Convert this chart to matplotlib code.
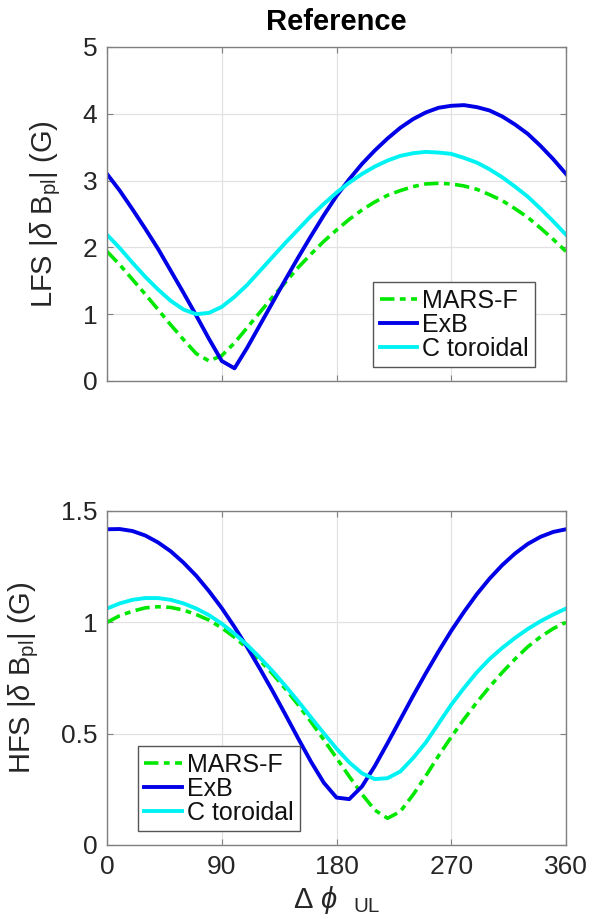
"""Two-panel |dB_pl| vs. upper/lower coil phasing (LFS / HFS), MATLAB look."""
import matplotlib
matplotlib.use("Agg")
import matplotlib.pyplot as plt

plt.rcParams["font.family"] = ["Liberation Sans", "DejaVu Sans"]
plt.rcParams["mathtext.fontset"] = "custom"
plt.rcParams["mathtext.rm"] = "Liberation Sans"
plt.rcParams["mathtext.it"] = "Liberation Sans:italic"
plt.rcParams["mathtext.bf"] = "Liberation Sans:bold"

# Phase difference (deg), common to all series.
PHI = [0, 10, 20, 30, 40, 50, 60, 70, 80, 90, 100, 110, 120, 130, 140, 150,
       160, 170, 180, 190, 200, 210, 220, 230, 240, 250, 260, 270, 280, 290,
       300, 310, 320, 330, 340, 350, 360]

# LFS panel (G)
LFS_MARS = [1.94, 1.74, 1.52, 1.30, 1.07, 0.84, 0.62, 0.41, 0.30, 0.38, 0.57,
            0.80, 1.03, 1.26, 1.48, 1.70, 1.90, 2.09, 2.26, 2.42, 2.56, 2.68,
            2.78, 2.85, 2.91, 2.95, 2.96, 2.95, 2.92, 2.87, 2.79, 2.70, 2.58,
            2.45, 2.29, 2.12, 1.94]
LFS_EXB = [3.10, 2.85, 2.57, 2.28, 1.98, 1.65, 1.32, 0.98, 0.63, 0.30, 0.19,
           0.50, 0.84, 1.18, 1.52, 1.85, 2.17, 2.48, 2.77, 3.02, 3.25, 3.45,
           3.63, 3.79, 3.92, 4.02, 4.09, 4.12, 4.13, 4.10, 4.05, 3.96, 3.84,
           3.70, 3.52, 3.32, 3.10]
LFS_CTOR = [2.19, 1.99, 1.77, 1.56, 1.37, 1.20, 1.07, 1.00, 1.02, 1.11, 1.26,
            1.44, 1.65, 1.86, 2.07, 2.27, 2.47, 2.65, 2.82, 2.97, 3.10, 3.21,
            3.30, 3.37, 3.41, 3.43, 3.42, 3.40, 3.34, 3.27, 3.17, 3.05, 2.91,
            2.76, 2.58, 2.39, 2.19]

# HFS panel (G)
HFS_MARS = [1.00, 1.03, 1.05, 1.065, 1.07, 1.067, 1.055, 1.035, 1.01, 0.975,
            0.933, 0.884, 0.829, 0.768, 0.701, 0.629, 0.553, 0.473, 0.391,
            0.308, 0.228, 0.157, 0.12, 0.15, 0.225, 0.31, 0.40, 0.485, 0.565,
            0.64, 0.71, 0.775, 0.835, 0.89, 0.935, 0.972, 1.00]
HFS_EXB = [1.418, 1.419, 1.41, 1.39, 1.359, 1.319, 1.268, 1.209, 1.14, 1.064,
           0.979, 0.888, 0.791, 0.69, 0.585, 0.478, 0.374, 0.28, 0.213, 0.206,
           0.263, 0.354, 0.457, 0.563, 0.669, 0.771, 0.869, 0.962, 1.047,
           1.126, 1.196, 1.257, 1.309, 1.352, 1.384, 1.406, 1.418]
HFS_CTOR = [1.062, 1.085, 1.101, 1.109, 1.109, 1.101, 1.085, 1.062, 1.032,
            0.994, 0.949, 0.898, 0.841, 0.78, 0.714, 0.645, 0.573, 0.502,
            0.433, 0.371, 0.322, 0.296, 0.30, 0.33, 0.39, 0.46, 0.545, 0.63,
            0.705, 0.775, 0.835, 0.885, 0.93, 0.97, 1.005, 1.035, 1.062]

LABELS = ["MARS-F", "ExB", "C toroidal"]
COLORS = ["#00e800", "#0000e6", "#00f2f2"]
XTICKS = [0, 90, 180, 270, 360]

TXT = "#262626"
AX_COL = "#808080"

W, H = 592, 919
fig = plt.figure(figsize=(W / 100, H / 100), dpi=100)


def panel(rect_px, series, ylim, yticks, ylabel, legend_loc, legend_anchor):
    left, top, right, bottom = rect_px
    ax = fig.add_axes([left / W, 1 - bottom / H, (right - left) / W,
                       (bottom - top) / H])
    handles = []
    for ys, col, lbl in zip(series, COLORS, LABELS):
        if lbl == "MARS-F":
            ln, = ax.plot(PHI, ys, color=col, lw=2.6, label=lbl,
                          solid_capstyle="butt")
            ln.set_dashes([4.0, 1.5, 1.6, 1.5])
        else:
            ln, = ax.plot(PHI, ys, color=col, lw=2.8, label=lbl)
        handles.append(ln)
    ax.set_xlim(0, 360)
    ax.set_ylim(*ylim)
    ax.set_xticks(XTICKS)
    ax.set_yticks(yticks)
    ax.grid(True, color="#e2e2e2", lw=0.9)
    ax.set_axisbelow(True)
    for s in ax.spines.values():
        s.set_color(AX_COL)
        s.set_linewidth(1.0)
    ax.tick_params(direction="in", top=True, right=True, length=4,
                   width=0.8, color=AX_COL, labelsize=19, labelcolor=TXT,
                   pad=7)
    ax.set_ylabel(ylabel, fontsize=21, color=TXT, labelpad=14)
    leg = ax.legend(handles=handles, loc=legend_loc,
                    bbox_to_anchor=legend_anchor, borderaxespad=0,
                    fontsize=18, handlelength=1.5, handletextpad=0.2,
                    borderpad=0.25, labelspacing=0.0, fancybox=False,
                    framealpha=1.0, edgecolor="#555555")
    leg.get_frame().set_linewidth(1.0)
    for t in leg.get_texts():
        t.set_color("#111111")
    return ax


ax1 = panel((107, 47, 566, 381), [LFS_MARS, LFS_EXB, LFS_CTOR], (0, 5),
            [0, 1, 2, 3, 4, 5], r"LFS |$\delta$ B$_{\rm pl}$| (G)",
            "lower right", (0.9325, 0.042))
ax1.set_xticklabels([])
ax1.set_title("Reference", fontsize=21, fontweight="bold", color="black",
              pad=12)

ax2 = panel((107, 511, 566, 845), [HFS_MARS, HFS_EXB, HFS_CTOR], (0, 1.5),
            [0, 0.5, 1, 1.5], r"HFS |$\delta$ B$_{\rm pl}$| (G)",
            "lower left", (0.0675, 0.042))
ax2.set_yticklabels(["0", "0.5", "1", "1.5"])
ax2.set_xlabel(r"$\Delta\ \phi\ \ _{\rm UL}$", fontsize=21, color=TXT,
               labelpad=4)

fig.savefig("out.png", dpi=100)
